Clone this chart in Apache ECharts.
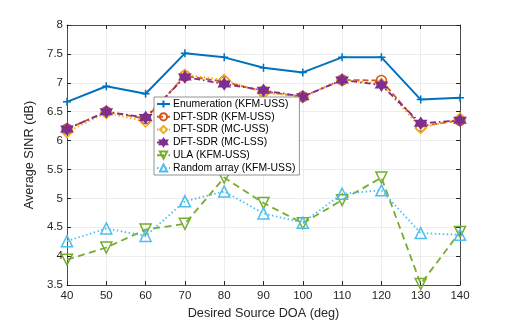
<!DOCTYPE html>
<html>
<head>
<meta charset="utf-8">
<script src="https://cdn.jsdelivr.net/npm/echarts@6/dist/echarts.min.js"></script>
<style>
  html, body { margin: 0; padding: 0; background: #fff; }
  #holder { width: 509px; height: 325px; }
</style>
</head>
<body>
<div id="holder"></div>
<script>
// desired source DOA (deg)
var doa = [40, 50, 60, 70, 80, 90, 100, 110, 120, 130, 140]

// average SINR (dB)
var enumKfm   = [6.67, 6.94, 6.81, 7.51, 7.44, 7.26, 7.18, 7.44, 7.44, 6.71, 6.74]
var dftKfm    = [6.20, 6.50, 6.38, 7.12, 7.02, 6.85, 6.76, 7.05, 7.04, 6.25, 6.35]
var dftMcUss  = [6.15, 6.48, 6.33, 7.14, 7.05, 6.83, 6.76, 7.05, 6.98, 6.22, 6.38]
var dftMcLss  = [6.20, 6.50, 6.40, 7.10, 6.98, 6.87, 6.76, 7.05, 6.96, 6.30, 6.35]
var ulaKfm    = [3.94, 4.15, 4.46, 4.56, 5.36, 4.92, 4.57, 4.97, 5.36, 3.52, 4.42]
var randKfm   = [4.26, 4.48, 4.35, 4.95, 5.12, 4.74, 4.58, 5.08, 5.14, 4.40, 4.37]

var names = [
  'Enumeration (KFM-USS)',
  'DFT-SDR (KFM-USS)',
  'DFT-SDR (MC-USS)',
  'DFT-SDR (MC-LSS)',
  'ULA (KFM-USS)',
  'Random array (KFM-USS)'
]

var plus = 'path://M0,5H10M5,0V10'
var diamond = 'path://M5,0L10,6.5L5,13L0,6.5Z'
var hexagram = 'path://M5,0L9.33,7.5H0.67Z M5,10L0.67,2.5H9.33Z'
var triDown = 'path://M0,0H10L5,8.66Z'
var triUp = 'path://M5,0L10,8.66H0Z'

var clear = 'rgba(255,255,255,0)'

function pairs(ys) {
  return ys.map((v, i) => [doa[i], v])
}

function mk(name, ys, col, dash, sym, size, fill, lw) {
  return {
    name: name,
    type: 'line',
    data: pairs(ys),
    symbol: sym,
    symbolSize: size,
    showSymbol: true,
    lineStyle: { color: col, width: lw, type: dash },
    itemStyle: { color: fill, borderColor: col, borderWidth: 1.5 },
    emphasis: { disabled: true }
  }
}

var font = 'Liberation Sans, Helvetica, Arial, sans-serif'
var ink = '#262626'

var chart = echarts.init(document.getElementById('holder'), null, { renderer: 'canvas' })

var option = {
  animation: false,
  backgroundColor: '#fff',
  grid: { left: 67, top: 25, right: 49, bottom: 36 },
  legend: {
    orient: 'vertical',
    left: 154,
    top: 97,
    padding: [2, 4, 2, 2],
    itemWidth: 13,
    itemHeight: 9,
    itemGap: 2.8,
    backgroundColor: '#fff',
    borderColor: '#7a7a7a',
    borderWidth: 0.8,
    borderRadius: 0,
    textStyle: { fontFamily: font, fontSize: 10.4, color: '#000', padding: [0, 0, 0, -2] },
    data: names
  },
  xAxis: [{
    type: 'value',
    min: 40, max: 140, interval: 10,
    name: 'Desired Source DOA (deg)',
    nameLocation: 'middle',
    nameGap: 19,
    nameTextStyle: { fontFamily: font, fontSize: 12.7, color: ink },
    axisLine: { lineStyle: { color: ink, width: 0.8 } },
    axisTick: { inside: true, length: 4, lineStyle: { color: ink } },
    axisLabel: { fontFamily: font, fontSize: 11.5, color: ink, margin: 5 },
    splitLine: { show: true, lineStyle: { color: '#e8e8e8', width: 0.8 } }
  }, {
    type: 'value', position: 'top',
    min: 40, max: 140, interval: 10,
    axisLine: { show: true, lineStyle: { color: ink, width: 0.8 } },
    axisTick: { inside: true, length: 4, lineStyle: { color: ink } },
    axisLabel: { show: false },
    splitLine: { show: false }
  }],
  yAxis: [{
    type: 'value',
    min: 3.5, max: 8, interval: 0.5,
    name: 'Average SINR (dB)',
    nameLocation: 'middle',
    nameGap: 24,
    nameTextStyle: { fontFamily: font, fontSize: 12.7, color: ink },
    axisLine: { show: true, lineStyle: { color: ink, width: 0.8 } },
    axisTick: { show: true, inside: true, length: 4, lineStyle: { color: ink } },
    axisLabel: { fontFamily: font, fontSize: 11.5, color: ink, margin: 4 },
    splitLine: { show: true, lineStyle: { color: '#e8e8e8', width: 0.8 } }
  }, {
    type: 'value', position: 'right',
    min: 3.5, max: 8, interval: 0.5,
    axisLine: { show: true, lineStyle: { color: ink, width: 0.8 } },
    axisTick: { show: true, inside: true, length: 4, lineStyle: { color: ink } },
    axisLabel: { show: false },
    splitLine: { show: false }
  }],
  series: [
    mk(names[0], enumKfm, '#0072BD', 'solid', plus, 8, clear, 2),
    mk(names[1], dftKfm, '#D95319', [6, 3], 'circle', 10, clear, 1.8),
    mk(names[2], dftMcUss, '#EDB120', [1.5, 2.5], diamond, 11, clear, 1.8),
    mk(names[3], dftMcLss, '#7E2F8E', [6, 3, 1.5, 3], hexagram, 11, '#7E2F8E', 1.8),
    mk(names[4], ulaKfm, '#77AC30', [7, 4.5], triDown, 11, clear, 1.8),
    mk(names[5], randKfm, '#4DBEEE', [1.5, 2.5], triUp, 11, clear, 1.8)
  ]
}

chart.setOption(option)
</script>
</body>
</html>
